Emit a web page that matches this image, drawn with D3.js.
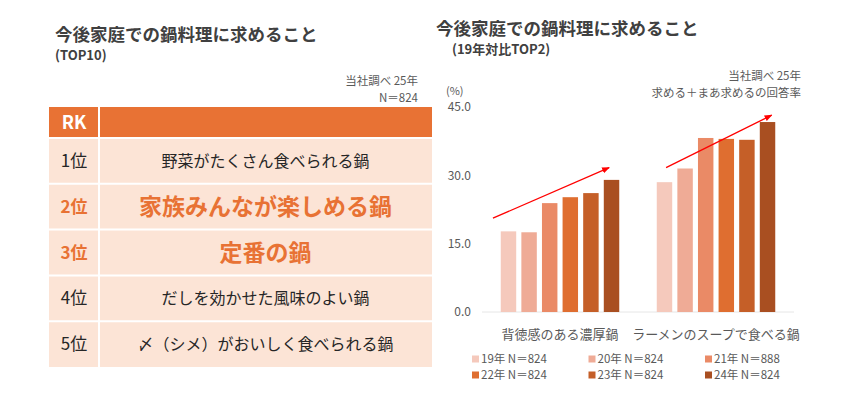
<!DOCTYPE html>
<html>
<head>
<meta charset="utf-8">
<script src="https://cdn.jsdelivr.net/npm/d3@7"></script>
<style>
  body { margin: 0; background: #fff; }
  svg { display: block; font-family: "Noto Sans CJK JP", "Noto Sans", sans-serif; }
</style>
</head>
<body>
<div class="canvas"></div>
<script>
// table data (left)
const ranks = ["1位", "2位", "3位", "4位", "5位"];
const items = [
  "野菜がたくさん食べられる鍋",
  "家族みんなが楽しめる鍋",
  "定番の鍋",
  "だしを効かせた風味のよい鍋",
  "〆（シメ）がおいしく食べられる鍋",
];
const emphasis = [false, true, true, false, false];

// chart data (right)
const categories = ["背徳感のある濃厚鍋", "ラーメンのスープで食べる鍋"];
const years = ["19年", "20年", "21年", "22年", "23年", "24年"];
const legendLabels = ["19年 N＝824", "20年 N＝824", "21年 N＝888", "22年 N＝824", "23年 N＝824", "24年 N＝824"];
const valuesRich = [17.7, 17.5, 23.9, 25.2, 26.1, 29.0];
const valuesRamen = [28.5, 31.5, 38.2, 38.0, 37.8, 41.7];
const yTicks = [0, 15, 30, 45];
// trend arrows (value at start / end)
const trendFrom = [20.6, 31.7];
const trendTo = [31.7, 43.2];

const barColors = ["#F5C9BC", "#EFAB96", "#EA8A66", "#DF6E30", "#C55F28", "#A94F21"];
const orange = "#E87234";

const svg = d3.select(".canvas").append("svg").attr("width", 850).attr("height", 399);

// ---------- left : ranking table ----------
svg.append("text").attr("x", 55).attr("y", 41)
  .attr("font-size", 17.5).attr("font-weight", 700).attr("fill", "#404040")
  .text("今後家庭での鍋料理に求めること");
svg.append("text").attr("x", 55).attr("y", 60)
  .attr("font-size", 13).attr("font-weight", 700).attr("fill", "#404040")
  .text("(TOP10)");
svg.append("text").attr("x", 418).attr("y", 85).attr("text-anchor", "end")
  .attr("font-size", 11.5).attr("fill", "#595959").text("当社調べ 25年");
svg.append("text").attr("x", 418).attr("y", 102).attr("text-anchor", "end")
  .attr("font-size", 11.5).attr("fill", "#595959").text("N＝824");

const tbl = { left: 49, right: 432, split: 99, top: 107, head: 138, bottom: 367 };
const rowY = d3.scaleBand().domain(ranks).range([tbl.head, tbl.bottom]);

// header
svg.append("rect").attr("x", tbl.left).attr("y", tbl.top)
  .attr("width", tbl.right - tbl.left).attr("height", tbl.head - tbl.top).attr("fill", orange);
svg.append("text").attr("x", (tbl.left + tbl.split) / 2).attr("y", (tbl.top + tbl.head) / 2)
  .attr("dy", "0.36em").attr("text-anchor", "middle")
  .attr("font-size", 18).attr("font-weight", 700).attr("fill", "#fff").text("RK");

const rows = svg.append("g").selectAll("g").data(ranks).join("g")
  .attr("transform", (d) => `translate(0, ${rowY(d)})`);

rows.append("rect").attr("x", tbl.left).attr("width", tbl.split - tbl.left)
  .attr("height", rowY.bandwidth()).attr("fill", "#FCE4D6");
rows.append("rect").attr("x", tbl.split).attr("width", tbl.right - tbl.split)
  .attr("height", rowY.bandwidth()).attr("fill", "#FCE4D6");

rows.append("text")
  .attr("x", (tbl.left + tbl.split) / 2).attr("y", rowY.bandwidth() / 2).attr("dy", "0.36em")
  .attr("text-anchor", "middle")
  .attr("font-size", 17)
  .attr("font-weight", (d, i) => (emphasis[i] ? 700 : 400))
  .attr("fill", (d, i) => (emphasis[i] ? orange : "#262626"))
  .text((d) => d);

rows.append("text")
  .attr("x", (tbl.split + tbl.right) / 2).attr("y", rowY.bandwidth() / 2).attr("dy", "0.36em")
  .attr("text-anchor", "middle")
  .attr("font-size", (d, i) => (emphasis[i] ? 23 : 16))
  .attr("font-weight", (d, i) => (emphasis[i] ? 700 : 400))
  .attr("fill", (d, i) => (emphasis[i] ? orange : "#262626"))
  .text((d, i) => items[i]);

// white grid lines
const lines = svg.append("g").attr("stroke", "#fff").attr("stroke-width", 2);
lines.append("line").attr("x1", tbl.split).attr("x2", tbl.split).attr("y1", tbl.top).attr("y2", tbl.bottom);
lines.selectAll("line.h").data([tbl.head, ...ranks.slice(1).map((r) => rowY(r))]).join("line")
  .attr("class", "h")
  .attr("x1", tbl.left).attr("x2", tbl.right).attr("y1", (d) => d).attr("y2", (d) => d);

// ---------- right : bar chart ----------
svg.append("text").attr("x", 436).attr("y", 35)
  .attr("font-size", 17.5).attr("font-weight", 700).attr("fill", "#404040")
  .text("今後家庭での鍋料理に求めること");
svg.append("text").attr("x", 452).attr("y", 54)
  .attr("font-size", 13).attr("font-weight", 700).attr("fill", "#404040")
  .text("(19年対比TOP2)");
svg.append("text").attr("x", 801).attr("y", 80).attr("text-anchor", "end")
  .attr("font-size", 11.5).attr("fill", "#595959").text("当社調べ 25年");
svg.append("text").attr("x", 801).attr("y", 97).attr("text-anchor", "end")
  .attr("font-size", 11.5).attr("fill", "#595959").text("求める＋まあ求めるの回答率");
svg.append("text").attr("x", 446).attr("y", 95)
  .attr("font-size", 11).attr("fill", "#595959").text("(%)");

const plot = { left: 482, right: 794, top: 107, bottom: 312 };
const y = d3.scaleLinear().domain([0, 45]).range([plot.bottom, plot.top]);
const x0 = d3.scaleBand().domain(categories).range([plot.left, plot.right]);
const x1 = d3.scaleBand().domain(years).range([0, x0.bandwidth()])
  .paddingInner(0.25).paddingOuter(0.91);
const color = d3.scaleOrdinal().domain(years).range(barColors);

const yAxis = svg.append("g").attr("transform", `translate(${plot.left - 8}, 0)`)
  .call(d3.axisLeft(y).tickValues(yTicks).tickFormat(d3.format(".1f")).tickSize(0).tickPadding(3));
yAxis.select(".domain").remove();
yAxis.selectAll("text").attr("font-size", 12).attr("fill", "#595959")
  .attr("font-family", "'Noto Sans CJK JP', sans-serif");

svg.append("line").attr("x1", plot.left).attr("x2", plot.right)
  .attr("y1", y(0)).attr("y2", y(0)).attr("stroke", "#E6E6E6").attr("stroke-width", 1);

const groups = [valuesRich, valuesRamen];
const bars = svg.append("g").selectAll("g").data(categories).join("g")
  .attr("transform", (d) => `translate(${x0(d)}, 0)`);
bars.selectAll("rect")
  .data((d, gi) => years.map((yr, i) => ({ yr, v: groups[gi][i] })))
  .join("rect")
  .attr("x", (d) => x1(d.yr))
  .attr("y", (d) => y(d.v))
  .attr("width", x1.bandwidth())
  .attr("height", (d) => y(0) - y(d.v))
  .attr("fill", (d) => color(d.yr));

// category labels
svg.append("g").selectAll("text").data(categories).join("text")
  .attr("x", (d) => x0(d) + x0.bandwidth() / 2).attr("y", 339)
  .attr("text-anchor", "middle").attr("font-size", 13).attr("fill", "#595959")
  .text((d) => d);

// trend arrows
svg.append("defs").append("marker")
  .attr("id", "arrow").attr("viewBox", "0 0 10 10").attr("refX", 9).attr("refY", 5)
  .attr("markerWidth", 6).attr("markerHeight", 6).attr("orient", "auto")
  .append("path").attr("d", "M0,1L10,5L0,9Z").attr("fill", "#FF0000");
const arrowFrac = [[0.07, 0.815], [0.18, 0.857]];
svg.append("g").selectAll("line").data(categories).join("line")
  .attr("x1", (d, i) => x0(d) + x0.bandwidth() * arrowFrac[i][0])
  .attr("x2", (d, i) => x0(d) + x0.bandwidth() * arrowFrac[i][1])
  .attr("y1", (d, i) => y(trendFrom[i]))
  .attr("y2", (d, i) => y(trendTo[i]))
  .attr("stroke", "#FF0000").attr("stroke-width", 1.3)
  .attr("marker-end", "url(#arrow)");

// legend
const legend = svg.append("g").selectAll("g").data(years).join("g")
  .attr("transform", (d, i) => `translate(${472 + (i % 3) * 116.5}, ${363 + Math.floor(i / 3) * 16})`);
legend.append("rect").attr("x", 0).attr("y", -7.5).attr("width", 7).attr("height", 7)
  .attr("fill", (d) => color(d));
legend.append("text").attr("x", 9).attr("y", 0)
  .attr("font-size", 11.5).attr("fill", "#595959")
  .text((d, i) => legendLabels[i]);
</script>
</body>
</html>
